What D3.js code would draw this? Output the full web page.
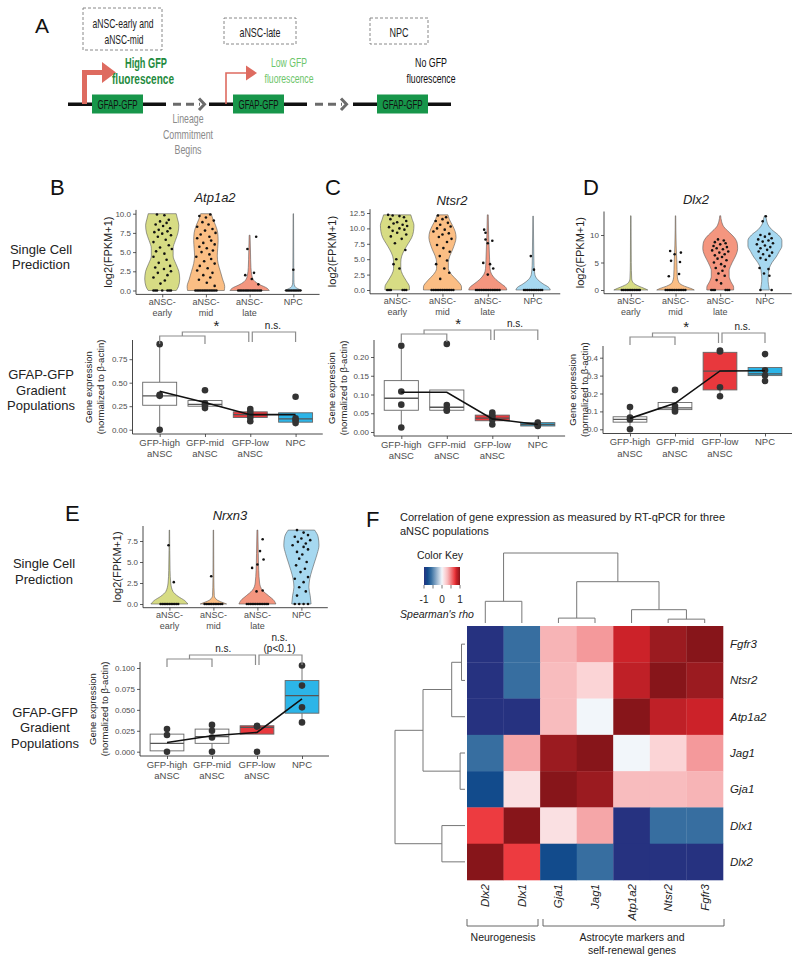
<!DOCTYPE html>
<html><head><meta charset="utf-8">
<script src="https://cdn.jsdelivr.net/npm/d3@7"></script>
<style>
body{margin:0;background:#fff;}
svg{display:block;font-family:"Liberation Sans",Arial,Helvetica,sans-serif;}
</style></head><body>
<svg id="fig" width="800" height="964"></svg>
<script>
// ================= DATA =================
const violinCategories = ["aNSC-early","aNSC-mid","aNSC-late","NPC"];
const boxCategories = ["GFP-high aNSC","GFP-mid aNSC","GFP-low aNSC","NPC"];
const violinFills = ["#d7dc84","#fbbe84","#f4967f","#a6d8f0"];
const boxFills = ["#ffffff","#ffffff","#e8383d","#2cb5e8"];

// violin outlines: [log2(FPKM+1), relative half width]
const atp1a2Shape = [
  [[0,0.32],[0.5,0.37],[1.5,0.4],[2.5,0.38],[3.5,0.31],[4.5,0.25],[5.5,0.25],[6.5,0.3],[7.5,0.36],[8.5,0.38],[9.3,0.35],[10,0.32]],
  [[0,0.42],[0.5,0.43],[1.5,0.38],[2.5,0.33],[3.5,0.28],[4.5,0.26],[5.5,0.27],[6.5,0.28],[7.5,0.27],[8.5,0.22],[9.3,0.16],[10,0.12]],
  [[0,0.45],[0.3,0.4],[0.8,0.22],[1.3,0.1],[2,0.05],[3,0.03],[5,0.02],[7.2,0.01]],
  [[0,0.2],[0.2,0.12],[0.5,0.04],[1,0.015],[3,0.01],[10,0.005]]
];
const atp1a2Points = [
  [[-0.12,9.9],[0.05,9.8],[0.15,9.2],[-0.05,9.0],[0.1,8.8],[-0.15,8.6],[0.02,8.4],[0.18,8.1],[-0.08,7.9],[0.12,7.7],[-0.18,7.6],[0.0,7.4],[0.2,7.2],[-0.1,7.0],[0.08,6.6],[-0.2,6.3],[0.15,5.9],[-0.05,5.6],[0.22,5.4],[-0.14,5.1],[0.05,4.8],[-0.2,4.4],[0.1,4.0],[-0.08,3.6],[0.18,3.2],[-0.16,3.0],[0.04,2.8],[0.2,2.5],[-0.1,2.3],[0.12,2.0],[-0.2,1.7],[0.06,1.3],[-0.04,0.9],[-0.2,0],[-0.16,0],[-0.12,0],[0.0,0],[0.12,0],[0.16,0],[0.2,0]],
  [[0.1,9.9],[-0.15,9.7],[0.0,9.5],[0.18,9.1],[-0.08,8.9],[0.06,8.6],[-0.2,8.3],[0.15,8.0],[-0.02,7.8],[0.22,7.5],[-0.12,7.3],[0.08,7.0],[-0.2,6.8],[0.12,6.5],[-0.06,6.2],[0.2,6.0],[-0.15,5.7],[0.02,5.5],[0.16,5.2],[-0.1,5.0],[0.08,4.7],[-0.22,4.4],[0.12,4.1],[-0.04,3.8],[0.2,3.5],[-0.14,3.2],[0.04,2.9],[-0.2,2.6],[0.15,2.3],[-0.06,2.0],[0.1,1.7],[-0.16,1.4],[0.02,1.0],[0.2,0.6],[-0.24,0],[-0.2,0],[-0.16,0],[-0.12,0],[-0.08,0],[-0.04,0],[0,0],[0.04,0],[0.08,0],[0.12,0],[0.16,0],[0.2,0],[0.24,0]],
  [[0.15,7.0],[-0.05,5.4],[0.1,2.3],[-0.1,2.0],[0.05,1.5],[0.2,0.8],[-0.26,0],[-0.22,0],[-0.18,0],[-0.14,0],[-0.1,0],[-0.06,0],[-0.02,0],[0.02,0],[0.06,0],[0.1,0],[0.14,0],[0.18,0],[0.22,0],[0.26,0]],
  [[0.0,2.7],[-0.16,0],[-0.12,0],[-0.08,0],[-0.04,0],[0,0],[0.04,0],[0.08,0],[0.12,0],[0.16,0]]
];

const ntsr2Shape = [
  [[0,0.27],[0.5,0.27],[1.5,0.2],[2.5,0.12],[3.5,0.08],[4.5,0.08],[5.5,0.1],[6.5,0.16],[7.5,0.24],[8.5,0.32],[9.5,0.36],[10.5,0.37],[11.5,0.33],[12.2,0.3]],
  [[0,0.42],[0.5,0.42],[1.5,0.33],[2.5,0.2],[3.5,0.13],[4.5,0.13],[5.5,0.16],[6.5,0.22],[7.5,0.27],[8.5,0.3],[9.5,0.28],[10.5,0.22],[11.5,0.15],[12.2,0.12]],
  [[0,0.42],[0.4,0.4],[1,0.3],[1.7,0.18],[2.5,0.09],[3.5,0.05],[5,0.04],[7,0.03],[9,0.02],[12.2,0.01]],
  [[0,0.38],[0.4,0.35],[1,0.22],[1.7,0.1],[2.5,0.04],[4,0.02],[6,0.015],[12,0.005]]
];
const ntsr2Points = [
  [[-0.2,12.2],[-0.1,12.1],[0.05,12.0],[0.15,11.8],[-0.15,11.5],[0.2,11.2],[0.0,11.0],[-0.08,10.8],[0.12,10.6],[0.22,10.4],[-0.18,10.2],[0.05,10.0],[0.16,9.8],[-0.1,9.6],[0.0,9.3],[0.2,9.0],[-0.14,8.7],[0.1,8.3],[-0.05,7.6],[0.18,6.5],[-0.02,5.0],[-0.08,4.2],[0.05,3.5],[-0.22,0],[-0.18,0],[-0.14,0],[0.12,0],[0.16,0],[0.2,0]],
  [[-0.1,12.1],[0.08,11.8],[0.0,11.5],[-0.15,11.2],[0.12,10.9],[-0.05,10.6],[0.18,10.3],[-0.12,10.0],[0.05,9.8],[-0.2,9.5],[0.14,9.2],[0.0,9.0],[-0.08,8.6],[0.2,8.3],[0.1,7.8],[-0.12,7.3],[0.02,6.8],[0.16,6.2],[-0.06,5.5],[0.1,4.8],[-0.14,4.2],[0.04,3.5],[0.15,2.8],[-0.05,1.8],[-0.24,0],[-0.2,0],[-0.16,0],[-0.12,0],[-0.08,0],[-0.04,0],[0,0],[0.04,0],[0.08,0],[0.12,0],[0.16,0],[0.2,0],[0.24,0]],
  [[-0.08,9.8],[-0.05,9.3],[0.1,8.0],[-0.05,8.2],[0.0,7.6],[-0.1,4.4],[0.05,4.2],[0.12,3.5],[0.0,2.5],[-0.26,0],[-0.22,0],[-0.18,0],[-0.14,0],[-0.1,0],[-0.06,0],[-0.02,0],[0.02,0],[0.06,0],[0.1,0],[0.14,0],[0.18,0],[0.22,0],[0.26,0]],
  [[-0.05,5.5],[0.02,3.3],[-0.2,0],[-0.16,0],[-0.12,0],[-0.08,0],[-0.04,0],[0,0],[0.04,0],[0.08,0],[0.12,0],[0.16,0],[0.2,0]]
];

const dlx2Shape = [
  [[0,0.38],[0.3,0.3],[0.7,0.18],[1.2,0.07],[2,0.02],[5,0.01],[13.5,0.005]],
  [[0,0.42],[0.3,0.34],[0.7,0.2],[1.3,0.08],[2.5,0.04],[5,0.03],[8,0.015],[13.5,0.005]],
  [[0,0.3],[0.5,0.3],[1.5,0.24],[2.5,0.2],[3.5,0.2],[4.5,0.24],[5.5,0.3],[6.5,0.36],[7.5,0.39],[8.5,0.38],[9.5,0.32],[10.5,0.2],[11.5,0.08],[12.5,0.03],[13.5,0.01]],
  [[0,0.1],[1,0.08],[2,0.07],[3,0.08],[4,0.1],[5,0.16],[6,0.25],[7,0.32],[8,0.38],[9,0.38],[10,0.3],[11,0.15],[12,0.06],[13,0.03],[13.5,0.01]]
];
const dlx2Points = [
  [[-0.2,0],[-0.16,0],[-0.12,0],[-0.08,0],[-0.04,0],[0,0],[0.04,0],[0.08,0],[0.12,0],[0.16,0],[0.2,0]],
  [[-0.12,7.1],[-0.02,6.5],[0.12,6.8],[-0.1,5.3],[0.1,5.1],[0.08,2.9],[-0.15,2.5],[-0.22,0],[-0.18,0],[-0.14,0],[-0.1,0],[-0.06,0],[-0.02,0],[0.02,0],[0.06,0],[0.1,0],[0.14,0],[0.18,0],[0.22,0]],
  [[-0.05,9.2],[0.08,9.0],[-0.12,8.7],[0.12,8.5],[0.0,8.3],[-0.15,8.0],[0.15,7.8],[-0.08,7.6],[0.06,7.4],[-0.18,7.2],[0.18,7.0],[-0.02,6.8],[0.1,6.5],[-0.12,6.3],[0.04,6.0],[-0.06,5.7],[0.14,5.4],[-0.14,5.0],[0.02,4.7],[0.1,4.3],[-0.1,4.0],[0.05,3.5],[-0.04,3.0],[0.1,2.6],[-0.08,1.8],[0.02,1.2],[-0.2,0],[-0.16,0],[-0.12,0],[0.12,0],[0.16,0],[0.2,0]],
  [[0.02,13.4],[-0.05,12.5],[0.1,10.2],[-0.1,10.0],[0.0,9.7],[0.15,9.4],[-0.15,9.2],[0.08,9.0],[-0.05,8.8],[0.18,8.5],[-0.18,8.3],[0.0,8.1],[0.12,7.8],[-0.1,7.6],[0.05,7.3],[-0.14,7.0],[0.16,6.8],[-0.04,6.5],[0.1,6.2],[-0.1,5.8],[0.02,5.5],[-0.12,4.0],[0.08,3.8],[-0.02,3.0],[0.1,2.6],[-0.1,0],[0.15,0]]
];

const nrxn3Shape = [
  [[0,0.42],[0.4,0.35],[0.9,0.2],[1.5,0.08],[2.5,0.03],[4,0.015],[8.8,0.005]],
  [[0,0.3],[0.2,0.2],[0.5,0.08],[1,0.02],[3,0.01],[8.8,0.005]],
  [[0,0.42],[0.4,0.38],[1,0.25],[1.6,0.12],[2.5,0.05],[4,0.03],[6,0.02],[8.8,0.01]],
  [[0,0.22],[1,0.2],[2,0.17],[3,0.19],[4,0.24],[5,0.3],[6,0.36],[7,0.4],[8,0.38],[8.8,0.3]]
];
const nrxn3Points = [
  [[-0.02,7.0],[0.1,2.6],[-0.2,0],[-0.16,0],[-0.12,0],[-0.08,0],[-0.04,0],[0,0],[0.04,0],[0.08,0],[0.12,0],[0.16,0],[0.2,0]],
  [[-0.05,3.3],[-0.2,0],[-0.16,0],[-0.12,0],[-0.08,0],[-0.04,0],[0,0],[0.04,0],[0.08,0],[0.12,0],[0.16,0],[0.2,0]],
  [[0.12,7.7],[0.06,6.3],[0.14,5.3],[0.0,4.7],[-0.12,4.3],[-0.02,1.5],[0.12,1.6],[-0.24,0],[-0.2,0],[-0.16,0],[-0.12,0],[-0.08,0],[-0.04,0],[0,0],[0.04,0],[0.08,0],[0.12,0],[0.16,0],[0.2,0],[0.24,0]],
  [[-0.1,8.8],[0.05,8.5],[0.15,8.2],[-0.15,8.0],[0.0,7.8],[0.2,7.6],[-0.08,7.4],[0.1,7.2],[-0.2,7.0],[0.05,6.8],[0.15,6.5],[-0.1,6.2],[0.02,5.9],[-0.05,5.4],[0.12,5.0],[-0.12,4.6],[0.08,4.2],[-0.02,3.8],[0.15,3.2],[-0.15,3.0],[0.05,2.6],[-0.05,2.0],[0.1,1.5],[-0.1,1.0],[-0.15,0],[-0.05,0],[0.05,0],[0.15,0]]
];

const atp1a2ViolinTicks = [0,2.5,5,7.5,10];
const ntsr2ViolinTicks = [0,2.5,5,7.5,10,12.5];
const dlx2ViolinTicks = [0,5,10];
const nrxn3ViolinTicks = [0,2.5,5,7.5];

// box stats: [whisker low, q1, median, q3, whisker high]
const atp1a2BoxStats = [[0.0,0.26,0.36,0.505,0.91],[0.23,0.25,0.27,0.31,0.31],[0.09,0.13,0.16,0.19,0.22],[0.07,0.08,0.115,0.18,0.18]];
const atp1a2BoxPoints = [[0.91,0.37,0.36,0.0],[0.42,0.28,0.26,0.23],[0.22,0.19,0.16,0.13,0.09],[0.35,0.12,0.10,0.07]];
const atp1a2Means = [0.41,0.29,0.16,0.16];

const ntsr2BoxStats = [[0.012,0.058,0.09,0.137,0.23],[0.057,0.058,0.066,0.112,0.112],[0.02,0.03,0.037,0.045,0.052],[0.015,0.016,0.02,0.025,0.025]];
const ntsr2BoxPoints = [[0.23,0.108,0.073,0.012],[0.235,0.072,0.06,0.057],[0.052,0.045,0.04,0.033,0.02],[0.025,0.02,0.018,0.016]];
const ntsr2Means = [0.106,0.106,0.035,0.02];

const dlx2BoxStats = [[0.0,0.04,0.055,0.07,0.125],[0.1,0.11,0.12,0.15,0.15],[0.185,0.22,0.325,0.43,0.44],[0.27,0.30,0.31,0.345,0.345]];
const dlx2BoxPoints = [[0.125,0.065,0.055,0.0],[0.22,0.13,0.11,0.1],[0.44,0.435,0.235,0.185],[0.42,0.33,0.3,0.27]];
const dlx2Means = [0.061,0.145,0.326,0.327];

const nrxn3BoxStats = [[0.0,0.001,0.01,0.021,0.027],[0.0,0.01,0.018,0.027,0.032],[0.021,0.021,0.029,0.031,0.031],[0.035,0.046,0.067,0.085,0.103]];
const nrxn3BoxPoints = [[0.027,0.02,0.0],[0.032,0.025,0.017,0.0],[0.031,0.03,0.0],[0.103,0.079,0.053,0.035]];
const nrxn3Means = [0.011,0.019,0.023,0.063];

const atp1a2BoxTicks = [0,0.25,0.5,0.75];
const ntsr2BoxTicks = [0,0.05,0.1,0.15,0.2];
const dlx2BoxTicks = [0,0.1,0.2,0.3,0.4];
const nrxn3BoxTicks = [0,0.025,0.05,0.075,0.1];

const atp1a2Sig = ["*","n.s."];
const ntsr2Sig = ["*","n.s."];
const dlx2Sig = ["*","n.s."];
const nrxn3Sig = ["n.s.","n.s.|(p<0.1)"];

// heatmap (Spearman's rho)
const heatRows = ["Fgfr3","Ntsr2","Atp1a2","Jag1","Gja1","Dlx1","Dlx2"];
const heatCols = ["Dlx2","Dlx1","Gja1","Jag1","Atp1a2","Ntsr2","Fgfr3"];
const corrValues = [
  [-1.0,-0.6, 0.33, 0.42, 0.8, 0.95, 1.0],
  [-1.0,-0.6, 0.3, 0.18, 0.84, 1.0, 0.95],
  [-1.0,-1.0, 0.3, 0.0, 1.0, 0.84, 0.8],
  [-0.6, 0.38, 0.95, 1.0, 0.0, 0.18, 0.42],
  [-0.8, 0.12, 1.0, 0.95, 0.3, 0.3, 0.33],
  [0.7, 1.0, 0.12, 0.38, -1.0, -0.6, -0.6],
  [1.0, 0.7, -0.8, -0.6, -1.0, -1.0, -1.0]
];
const colTree = {h:1, c:[{h:0.31, c:["Dlx2","Dlx1"]}, {h:0.59, c:[{h:0.07, c:["Gja1","Jag1"]}, {h:0.19, c:["Atp1a2", {h:0.055, c:["Ntsr2","Fgfr3"]}]}]}]};
const rowTree = {h:1, c:[{h:0.6, c:[{h:0.19, c:[{h:0.05, c:["Fgfr3","Ntsr2"]}, "Atp1a2"]}, {h:0.07, c:["Jag1","Gja1"]}]}, {h:0.33, c:["Dlx1","Dlx2"]}]};
const keyTicks = [-1,-0.5,0,0.5,1];
const keyLabels = [-1,0,1];

// ================= DRAWING =================
const svg = d3.select("#fig");
const TXT = "#222";

function txt(g, x, y, s, o = {}) {
  const t = g.append("text").attr("x", x).attr("y", y).text(s)
    .attr("font-size", o.size || 10).attr("text-anchor", o.anchor || "middle")
    .attr("fill", o.fill || TXT);
  if (o.weight) t.attr("font-weight", o.weight);
  if (o.italic) t.attr("font-style", "italic");
  if (o.len) t.attr("textLength", o.len).attr("lengthAdjust", "spacingAndGlyphs");
  if (o.rotate) t.attr("transform", `rotate(${o.rotate},${x},${y})`);
  return t;
}
function ln(g, x1, y1, x2, y2, col, w, dash) {
  const l = g.append("line").attr("x1", x1).attr("y1", y1).attr("x2", x2).attr("y2", y2)
    .attr("stroke", col).attr("stroke-width", w);
  if (dash) l.attr("stroke-dasharray", dash);
  return l;
}

// ---------- Panel A ----------
(function () {
  const g = svg.append("g");
  txt(g, 35, 33, "A", {size: 21, anchor: "start", fill: "#111"});
  const dashBox = (x, y, w, h) => g.append("rect").attr("x", x).attr("y", y).attr("width", w).attr("height", h)
    .attr("fill", "none").attr("stroke", "#7a7a7a").attr("stroke-width", 0.9).attr("stroke-dasharray", "3,2");
  dashBox(83, 8, 79, 42); dashBox(224, 18, 72, 26); dashBox(370, 18, 58, 26);
  txt(g, 123, 28, "aNSC-early and", {size: 13, len: 61});
  txt(g, 124, 44, "aNSC-mid", {size: 13, len: 39});
  txt(g, 260, 36.5, "aNSC-late", {size: 13, len: 41});
  txt(g, 399, 36.5, "NPC", {size: 13, len: 19});

  [[68,166,92],[209,307,233],[353,451,377]].forEach(([a, b, bx]) => {
    ln(g, a, 104.3, b, 104.3, "#111", 3.5);
    g.append("rect").attr("x", bx).attr("y", 94.5).attr("width", 51).attr("height", 19).attr("fill", "#17964a");
    txt(g, bx + 25.5, 109, "GFAP-GFP", {size: 12.5, len: 40, fill: "#111"});
  });
  [[173,200],[315,342]].forEach(([a, b]) => {
    ln(g, a, 104.3, b, 104.3, "#6b6b6b", 3, "8,5");
    g.append("path").attr("d", `M${b - 1},98.5 L${b + 4.5},104.3 L${b - 1},110`).attr("fill", "none")
      .attr("stroke", "#6b6b6b").attr("stroke-width", 3);
  });
  const red = "#de6b60";
  g.append("path").attr("d", "M84.5,104 V72.5 H104").attr("fill", "none").attr("stroke", red).attr("stroke-width", 5);
  g.append("path").attr("d", "M102,62 L116,72.5 L102,83 Z").attr("fill", red);
  g.append("path").attr("d", "M226,104 V73 H247").attr("fill", "none").attr("stroke", red).attr("stroke-width", 1.6);
  g.append("path").attr("d", "M246,65.5 L257,73 L246,80.5 Z").attr("fill", red);

  txt(g, 146, 67.5, "High GFP", {size: 14, weight: "bold", len: 42, fill: "#1f8b3e"});
  txt(g, 143, 84, "fluorescence", {size: 14, weight: "bold", len: 62, fill: "#1f8b3e"});
  txt(g, 289, 66.5, "Low GFP", {size: 13, len: 36, fill: "#6cc56a"});
  txt(g, 289, 82.5, "fluorescence", {size: 13, len: 49, fill: "#6cc56a"});
  txt(g, 431, 66.5, "No GFP", {size: 13, len: 32, fill: "#111"});
  txt(g, 431, 82.5, "fluorescence", {size: 13, len: 49, fill: "#111"});
  txt(g, 188, 122.5, "Lineage", {size: 13, len: 31, fill: "#8a8a8a"});
  txt(g, 188, 138.5, "Commitment", {size: 13, len: 50, fill: "#8a8a8a"});
  txt(g, 188, 153.5, "Begins", {size: 13, len: 27, fill: "#8a8a8a"});
})();

// ---------- violin / box panels ----------
function splitViolin(c) { const i = c.indexOf("-"); return i < 0 ? [c] : [c.slice(0, i + 1), c.slice(i + 1)]; }
function splitBox(c) { return c.split(" "); }

function styleAxis(sel, fs) {
  sel.select(".domain").remove();
  sel.selectAll(".tick line").attr("stroke", "#333").attr("stroke-width", 0.8);
  sel.selectAll(".tick text").attr("fill", "#4d4d4d").attr("font-size", fs).attr("font-family", null);
}

function violinPanel(cfg, shapes, points, ticks, fmt) {
  const g = svg.append("g");
  const x = d3.scalePoint().domain(violinCategories).range([cfg.x0, cfg.x0 + cfg.step * 4.2]).padding(0.6);
  const y = d3.scaleLinear().domain([0, cfg.ref]).range([cfg.y0, cfg.yRef]);
  const st = x.step();
  violinCategories.forEach((c, i) => {
    const cx = x(c);
    const area = d3.area().y(d => y(d[0])).x0(d => cx - d[1] * st).x1(d => cx + d[1] * st).curve(d3.curveMonotoneY);
    g.append("path").attr("d", area(shapes[i])).attr("fill", violinFills[i]).attr("stroke", "#5a5a5a").attr("stroke-width", 0.6);
    g.selectAll(null).data(points[i]).enter().append("circle")
      .attr("cx", d => cx + d[0] * st).attr("cy", d => y(d[1])).attr("r", 1.3).attr("fill", "#111");
  });
  const x1 = cfg.x0 + cfg.step * 4.2;
  g.append("path").attr("d", `M${cfg.x0},${cfg.top} V${cfg.bottom} H${x1}`).attr("fill", "none").attr("stroke", "#333").attr("stroke-width", 0.9);
  const ya = g.append("g").attr("transform", `translate(${cfg.x0},0)`)
    .call(d3.axisLeft(y).tickValues(ticks).tickFormat(d3.format(fmt)).tickSize(3).tickPadding(2));
  styleAxis(ya, 8);
  const xa = g.append("g").attr("transform", `translate(0,${cfg.bottom})`)
    .call(d3.axisBottom(x).tickSize(3).tickFormat(""));
  styleAxis(xa, 8);
  violinCategories.forEach(c => splitViolin(c).forEach((s, k) =>
    txt(g, x(c), cfg.bottom + 10.5 + k * 11, s, {size: 9, fill: "#4d4d4d"})));
  txt(g, cfg.ytx, (cfg.top + cfg.bottom) / 2, "log2(FPKM+1)", {size: 11, rotate: -90});
}

function boxPanel(cfg, stats, points, means, ticks, fmt, sig) {
  const g = svg.append("g");
  const x = d3.scalePoint().domain(boxCategories).range([cfg.x0, cfg.x0 + cfg.step * 4.2]).padding(0.6);
  const y = d3.scaleLinear().domain([0, cfg.ref]).range([cfg.y0, cfg.yRef]);
  const bw = x.step() * 0.75;
  boxCategories.forEach((c, i) => {
    const [lo, q1, md, q3, hi] = stats[i], cx = x(c);
    ln(g, cx, y(lo), cx, y(q1), "#666", 0.9);
    ln(g, cx, y(q3), cx, y(hi), "#666", 0.9);
    g.append("rect").attr("x", cx - bw / 2).attr("y", y(q3)).attr("width", bw).attr("height", y(q1) - y(q3))
      .attr("fill", boxFills[i]).attr("stroke", "#666").attr("stroke-width", 0.9);
    ln(g, cx - bw / 2, y(md), cx + bw / 2, y(md), "#555", 1.3);
  });
  boxCategories.forEach((c, i) => {
    g.selectAll(null).data(points[i]).enter().append("circle")
      .attr("cx", x(c)).attr("cy", d => y(d)).attr("r", 3.3).attr("fill", "#333");
  });
  g.append("path").attr("d", d3.line().x((d, i) => x(boxCategories[i])).y(d => y(d))(means))
    .attr("fill", "none").attr("stroke", "#111").attr("stroke-width", 1.6);
  const x1 = cfg.x0 + cfg.step * 4.2;
  g.append("path").attr("d", `M${cfg.x0},${cfg.top} V${cfg.bottom} H${x1}`).attr("fill", "none").attr("stroke", "#333").attr("stroke-width", 0.9);
  const ya = g.append("g").attr("transform", `translate(${cfg.x0},0)`)
    .call(d3.axisLeft(y).tickValues(ticks).tickFormat(d3.format(fmt)).tickSize(3).tickPadding(2));
  styleAxis(ya, 8);
  const xa = g.append("g").attr("transform", `translate(0,${cfg.bottom})`)
    .call(d3.axisBottom(x).tickSize(3).tickFormat(""));
  styleAxis(xa, 8);
  boxCategories.forEach(c => splitBox(c).forEach((s, k) =>
    txt(g, x(c), cfg.bottom + 11.5 + k * 11.5, s, {size: 9.5, fill: "#4d4d4d"})));
  const yc = (cfg.top + cfg.bottom) / 2;
  txt(g, cfg.yt1, yc, "Gene expression", {size: 9.5, rotate: -90});
  txt(g, cfg.yt2, yc, "(normalized to β-actin)", {size: 9.5, rotate: -90});
  // significance brackets
  const b = cfg.yb, gc = "#8c8c8c", c0 = x(boxCategories[0]), c1 = x(boxCategories[1]), c2 = x(boxCategories[2]), c3 = x(boxCategories[3]);
  g.append("path").attr("d", `M${c0},${b + 8} V${b} H${c1} V${b + 8}`).attr("fill", "none").attr("stroke", gc).attr("stroke-width", 1.2);
  const m = (c0 + c1) / 2;
  g.append("path").attr("d", `M${m},${b} V${b - 4} H${c2 - 1.5} V${b + 6}`).attr("fill", "none").attr("stroke", gc).attr("stroke-width", 1.2);
  g.append("path").attr("d", `M${c2 + 2},${b + 6} V${b - 4} H${c3} V${b + 6}`).attr("fill", "none").attr("stroke", gc).attr("stroke-width", 1.2);
  const s1 = sig[0];
  if (s1 === "*") txt(g, (m + c2) / 2, b - 5, "*", {size: 15});
  else txt(g, (m + c2) / 2, b - 7, s1, {size: 10});
  const s2 = sig[1].split("|");
  s2.forEach((s, k) => txt(g, (c2 + c3) / 2, b - 7 - (s2.length - 1 - k) * 11.5, s, {size: 10}));
}

function label(x, y, s) { txt(svg, x, y, s, {size: 22, anchor: "start", fill: "#111"}); }
function geneTitle(x, y, s) { txt(svg, x, y, s, {size: 13, italic: true}); }
function sideLabels(cx, ys, lines) { lines.forEach((s, i) => txt(svg, cx, ys[i], s, {size: 13})); }

// Panel B
label(50, 195, "B"); geneTitle(215, 202, "Atp1a2");
sideLabels(41, [254, 269], ["Single Cell", "Prediction"]);
sideLabels(41, [379, 395, 410], ["GFAP-GFP", "Gradient", "Populations"]);
violinPanel({x0: 136, step: 43.7, y0: 290.5, ref: 10, yRef: 213.7, top: 209.9, bottom: 294.4, ytx: 112},
  atp1a2Shape, atp1a2Points, atp1a2ViolinTicks, ".1f");
boxPanel({x0: 132.5, step: 45.3, y0: 429.7, ref: 0.75, yRef: 359.2, top: 340, bottom: 434, yt1: 91.5, yt2: 103.5, yb: 336},
  atp1a2BoxStats, atp1a2BoxPoints, atp1a2Means, atp1a2BoxTicks, ".2f", atp1a2Sig);

// Panel C
label(325, 195, "C"); geneTitle(452, 205, "Ntsr2");
violinPanel({x0: 370, step: 45.3, y0: 290, ref: 12.5, yRef: 213, top: 209.2, bottom: 293.8, ytx: 336},
  ntsr2Shape, ntsr2Points, ntsr2ViolinTicks, ".1f");
boxPanel({x0: 374, step: 45.5, y0: 432, ref: 0.2, yRef: 357, top: 340, bottom: 436, yt1: 335, yt2: 346.5, yb: 334},
  ntsr2BoxStats, ntsr2BoxPoints, ntsr2Means, ntsr2BoxTicks, ".2f", ntsr2Sig);

// Panel D
label(583, 195, "D"); geneTitle(696, 204, "Dlx2");
violinPanel({x0: 604, step: 44.7, y0: 290, ref: 10, yRef: 235, top: 211.5, bottom: 293.7, ytx: 584},
  dlx2Shape, dlx2Points, dlx2ViolinTicks, "d");
boxPanel({x0: 603, step: 45, y0: 429.3, ref: 0.4, yRef: 357.7, top: 346, bottom: 433.5, yt1: 576, yt2: 587.5, yb: 337},
  dlx2BoxStats, dlx2BoxPoints, dlx2Means, dlx2BoxTicks, ".1f", dlx2Sig);

// Panel E
label(65, 521, "E"); geneTitle(230, 520, "Nrxn3");
sideLabels(44, [568, 584], ["Single Cell", "Prediction"]);
sideLabels(45, [717, 732, 748], ["GFAP-GFP", "Gradient", "Populations"]);
violinPanel({x0: 143, step: 44, y0: 604, ref: 7.5, yRef: 541, top: 526, bottom: 607.7, ytx: 121},
  nrxn3Shape, nrxn3Points, nrxn3ViolinTicks, ".1f");
boxPanel({x0: 140, step: 45, y0: 751.7, ref: 0.1, yRef: 668, top: 662, bottom: 756, yt1: 96.3, yt2: 108.3, yb: 659},
  nrxn3BoxStats, nrxn3BoxPoints, nrxn3Means, nrxn3BoxTicks, ".3f", nrxn3Sig);

// ---------- Panel F ----------
(function () {
  const g = svg.append("g");
  label(366, 527, "F");
  txt(g, 400, 521, "Correlation of gene expression as measured by RT-qPCR for three", {size: 11, anchor: "start"});
  txt(g, 400, 534.5, "aNSC populations", {size: 11, anchor: "start"});

  const color = d3.scaleLinear()
    .domain([-1, -0.8, -0.6, 0, 0.15, 0.3, 0.4, 0.7, 0.8, 0.95, 1])
    .range(["#263280", "#124b8c", "#376ea0", "#f2f6fa", "#fcdadc", "#f8bcbe", "#f4a0a2", "#ed3b40", "#cc2229", "#9b1b20", "#87151a"]);

  // color key
  txt(g, 440, 559, "Color Key", {size: 10.5});
  const kx = d3.scaleLinear().domain([-1, 1]).range([424, 460]);
  const grad = svg.append("defs").append("linearGradient").attr("id", "keyGrad");
  d3.range(0, 1.0001, 0.05).forEach(t => grad.append("stop").attr("offset", t).attr("stop-color", color(-1 + 2 * t)));
  g.append("rect").attr("x", 424).attr("y", 567).attr("width", 36).attr("height", 18).attr("fill", "url(#keyGrad)");
  keyTicks.forEach(v => ln(g, kx(v), 585, kx(v), 588.5, "#555", 0.8));
  keyLabels.forEach(v => txt(g, kx(v), 603, v === -1 ? "-1" : String(v), {size: 10}));
  txt(g, 437, 618, "Spearman's rho", {size: 10.5, italic: true});

  // heatmap
  const xb = d3.scaleBand().domain(heatCols).range([467, 723]);
  const yb = d3.scaleBand().domain(heatRows).range([626, 880]);
  heatRows.forEach((r, i) => heatCols.forEach((c, j) => {
    g.append("rect").attr("x", xb(c)).attr("y", yb(r)).attr("width", xb.bandwidth() + 0.3).attr("height", yb.bandwidth() + 0.3)
      .attr("fill", color(corrValues[i][j]));
  }));
  heatRows.forEach(r => txt(g, 730, yb(r) + yb.bandwidth() / 2 + 4, r, {size: 11.5, italic: true, anchor: "start"}));
  heatCols.forEach(c => {
    const cx = xb(c) + xb.bandwidth() / 2 + 4;
    txt(g, cx, 884, c, {size: 11.5, italic: true, anchor: "end", rotate: -90});
  });

  // dendrograms
  function tree(node, leaf, hs, horiz) {
    if (typeof node === "string") return {p: leaf(node) + leaf.bandwidth() / 2, h: 0};
    const kids = node.c.map(k => tree(k, leaf, hs, horiz));
    const H = hs(node.h);
    const seg = (a1, b1, a2, b2) => horiz ? ln(g, b1, a1, b2, a2, "#777", 1) : ln(g, a1, b1, a2, b2, "#777", 1);
    kids.forEach(k => seg(k.p, hs(k.h), k.p, H));
    seg(kids[0].p, H, kids[kids.length - 1].p, H);
    return {p: d3.mean(kids, k => k.p), h: node.h};
  }
  tree(colTree, xb, d3.scaleLinear().domain([0, 1]).range([623, 553]), false);
  tree(rowTree, yb, d3.scaleLinear().domain([0, 1]).range([465, 395]), true);

  // group brackets
  g.append("path").attr("d", "M467,919 V926 H538 V919").attr("fill", "none").attr("stroke", "#666").attr("stroke-width", 1);
  g.append("path").attr("d", "M543,919 V926 H724 V919").attr("fill", "none").attr("stroke", "#666").attr("stroke-width", 1);
  txt(g, 503, 941, "Neurogenesis", {size: 10.5});
  txt(g, 632, 941, "Astrocyte markers and", {size: 10.5});
  txt(g, 632, 953.5, "self-renewal genes", {size: 10.5});
})();
</script>
</body></html>
